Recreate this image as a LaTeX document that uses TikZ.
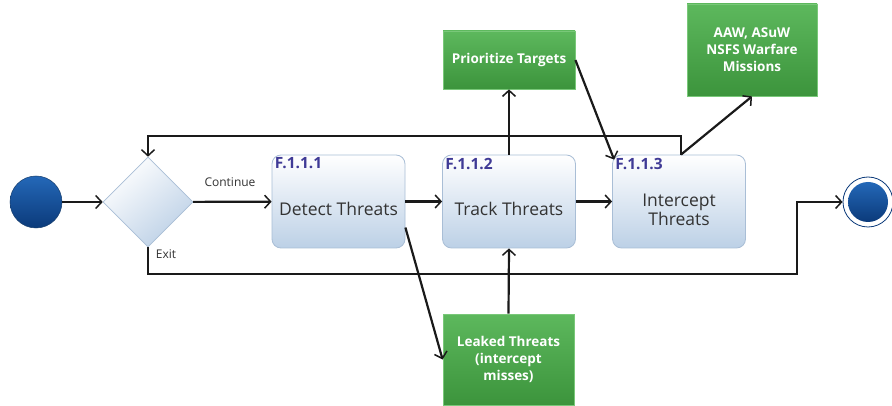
\documentclass[tikz,border=0pt]{standalone}
\usepackage{fontspec}
\setmainfont{Open Sans}
\usetikzlibrary{arrows.meta,shapes.geometric,calc}
\definecolor{ln}{HTML}{1A1A1A}
\definecolor{bxtop}{HTML}{FFFFFF}
\definecolor{bxbot}{HTML}{BCD0E6}
\definecolor{bxdraw}{HTML}{A9BED6}
\definecolor{idc}{HTML}{3F3A96}
\definecolor{gtop}{HTML}{5DB85D}
\definecolor{gbot}{HTML}{3C943C}
\definecolor{gdraw}{HTML}{79C879}
\definecolor{txt}{HTML}{333333}
\definecolor{btop}{HTML}{2468B8}
\definecolor{bbot}{HTML}{0B3A7A}
\tikzset{
  arr/.style={draw=ln,line width=2.2pt,-{Straight Barb[length=6pt,width=13pt,line width=1.5pt]}},
  fbox/.style={draw=bxdraw,line width=0.8pt,rounded corners=9pt,top color=bxtop,bottom color=bxbot,minimum width=133pt,minimum height=93pt,inner sep=0pt},
  gbox/.style={draw=gdraw,line width=0.8pt,top color=gtop,bottom color=gbot,inner sep=0pt,text=white,font=\fontsize{13.5}{17}\selectfont\bfseries,align=center},
  idl/.style={text=idc,font=\fontsize{15.5}{17}\selectfont\bfseries,inner sep=0pt,anchor=north west},
  mtxt/.style={text=txt,font=\fontsize{17.5}{19}\selectfont,align=center,inner sep=0pt},
  small/.style={text=txt,font=\fontsize{12}{14}\selectfont,inner sep=0pt}
}
\begin{document}
\begin{tikzpicture}[x=1pt,y=-1pt]
\useasboundingbox (0,0) rectangle (892,406);
\fill[white] (0,0) rectangle (892,406);
% start
\node[circle,minimum size=52pt,inner sep=0pt,top color=btop,bottom color=bbot,draw=btop!60!black,line width=0.5pt] (S) at (36,202) {};
% decision
\node[diamond,minimum width=90pt,minimum height=90pt,inner sep=0pt,draw=bxdraw,line width=0.6pt,shading=axis,top color=white,bottom color=bxbot,shading angle=40] (D) at (148,202) {};
% function boxes
\node[fbox] (B1) at (338.5,201.5) {};
\node[fbox] (B2) at (509,201.5) {};
\node[fbox] (B3) at (679,201.5) {};
\node[idl] (L1) at ($(B1.north west)+(3,3)$) {F.1.1.1};
\node[idl] (L2) at ($(B2.north west)+(3,3)$) {F.1.1.2};
\node[idl] (L3) at ($(B3.north west)+(3,3)$) {F.1.1.3};
\node[mtxt] (T1) at ($(B1.center)+(0,7)$) {Detect Threats};
\node[mtxt] (T2) at ($(B2.center)+(0,7)$) {Track Threats};
\node[mtxt] (T3) at ($(B3.center)+(0,8)$) {Intercept\\Threats};
% green boxes
\node[gbox,minimum width=132pt,minimum height=58pt] (P) at (509,60) {Prioritize Targets};
\node[gbox,minimum width=130pt,minimum height=92pt] (A) at (752,50) {AAW, ASuW\\NSFS Warfare\\Missions};
\node[gbox,minimum width=131pt,minimum height=91pt] (K) at (508.5,359.5) {Leaked Threats\\(intercept\\misses)};
% end
\node[circle,minimum size=50pt,inner sep=0pt,draw=bbot,line width=0.8pt,fill=white] (E) at (868,202) {};
\node[circle,minimum size=40pt,inner sep=0pt,top color=btop,bottom color=bbot] (E2) at (E.center) {};
% labels
\node[small] (lc) at (230,182) {Continue};
\node[small] (le) at (166,254) {Exit};
% connectors
\coordinate (top) at (681,136);
\coordinate (bot) at (797,274);
\draw[arr] (S) -- (D);
\draw[arr] (D) -- (B1);
\draw[arr] (B1) -- (B2);
\draw[arr] (B2) -- (B3);
\draw[arr] (B2.north) -- (P.south);
\draw[arr] (K.north) -- (B2.south);
\draw[arr] ([xshift=2pt]B3.north) -- (top) -| (D.north);
\draw[arr] ([xshift=2pt]B3.north) -- (A.south);
\draw[arr] (P.east) -- ([xshift=2pt,yshift=-5pt]B3.north west);
\draw[arr] ([yshift=-26pt]B1.east) -- (K.west);
\draw[arr] (D.south) |- (bot) |- (E.west);
\end{tikzpicture}
\end{document}
